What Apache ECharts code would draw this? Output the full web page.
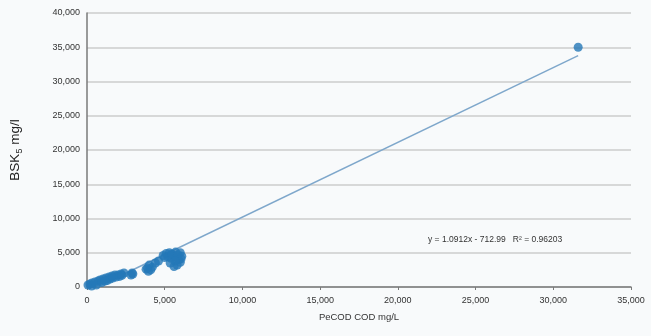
<!DOCTYPE html>
<html>
<head>
<meta charset="utf-8">
<script src="https://cdn.jsdelivr.net/npm/echarts@6/dist/echarts.min.js"></script>
<style>
  html, body { margin: 0; padding: 0; background: #f8fafb; }
  #chart { width: 651px; height: 336px; }
</style>
</head>
<body>
<div id="chart"></div>
<script>
// PeCOD COD (x) vs BSK5 (y) sample measurements, mg/l
const codValues = [
  64, 190, 320, 510, 710, 840, 1030, 1220, 1420, 1610, 1800, 2000, 2190, 2380, 1480, 1870,
  300, 600, 950, 1300, 1650, 2100, 2250, 1150,
  2900, 2830, 2950,
  3800, 4000, 4200, 4400, 3950, 4600, 4100, 3900,
  4900, 5100, 5300, 5500, 5700, 5900, 6000, 5800, 5600, 6100, 5400, 5200, 6000, 5700,
  5000, 5450, 5850, 6050, 5650, 5350,
  31600
];
const bskValues = [
  290, 440, 580, 730, 880, 1020, 1170, 1310, 1460, 1610, 1750, 1750, 1900, 2040, 1170, 1460,
  150, 300, 650, 950, 1300, 1550, 1700, 850,
  2040, 1750, 1900,
  2600, 3200, 2900, 3500, 2300, 3800, 2500, 2750,
  4600, 4900, 5000, 4700, 4300, 4000, 3600, 3200, 3000, 4500, 4200, 4400, 5000, 5100,
  4300, 4800, 4700, 4100, 3800, 3500,
  35000
];

// Linear fit reported on the chart
const fitSlope = 1.0912;
const fitIntercept = -712.99;
const fitR2 = 0.96203;
const fitRange = [650, 31600];

const xTicks = [0, 5000, 10000, 15000, 20000, 25000, 30000, 35000];
const yTicks = [0, 5000, 10000, 15000, 20000, 25000, 30000, 35000, 40000];

const points = codValues.map((x, i) => [x, bskValues[i]]);
const fitLine = fitRange.map(x => [x, fitSlope * x + fitIntercept]);
const fmt = v => v.toLocaleString('en-US');

const chart = echarts.init(document.getElementById('chart'));
chart.setOption({
  backgroundColor: '#f8fafb',
  animation: false,
  grid: { left: 87, right: 20, top: 13, bottom: 49 },
  xAxis: {
    type: 'value',
    min: xTicks[0],
    max: xTicks[xTicks.length - 1],
    interval: 5000,
    name: 'PeCOD COD mg/L',
    nameLocation: 'middle',
    nameGap: 25,
    nameTextStyle: { fontFamily: 'Liberation Sans', fontSize: 9.5, color: '#333' },
    axisLine: { lineStyle: { color: '#7a7a7a', width: 1.5 } },
    axisTick: { show: true, length: 3, lineStyle: { color: '#7a7a7a' } },
    axisLabel: { formatter: fmt, margin: 9, fontFamily: 'Liberation Sans', fontSize: 9, color: '#333' },
    splitLine: { show: false }
  },
  yAxis: {
    type: 'value',
    min: yTicks[0],
    max: yTicks[yTicks.length - 1],
    interval: 5000,
    name: '{n|BSK}{s|5}{n| mg/l}',
    nameLocation: 'middle',
    nameRotate: 90,
    nameGap: 63,
    nameTextStyle: {
      rich: {
        n: { fontFamily: 'Liberation Sans', fontSize: 13.5, color: '#222' },
        s: { fontFamily: 'Liberation Sans', fontSize: 9, color: '#222', padding: [8, 0, 0, 0] }
      }
    },
    axisLine: { show: true, lineStyle: { color: '#7a7a7a', width: 1.5 } },
    axisTick: { show: false },
    axisLabel: { formatter: fmt, margin: 7, padding: [10, 0, 0, 0], fontFamily: 'Liberation Sans', fontSize: 9, color: '#333' },
    splitLine: { show: true, lineStyle: { color: '#cdcdcd', width: 1.5 } }
  },
  series: [
    {
      type: 'line',
      data: fitLine,
      symbol: 'none',
      lineStyle: { color: '#7ea7cb', width: 1.5 },
      z: 1,
      silent: true
    },
    {
      type: 'scatter',
      data: points,
      symbolSize: 9,
      itemStyle: { color: '#2478b8' },
      z: 2
    }
  ],
  graphic: [{
    type: 'text',
    left: 428,
    top: 235,
    style: {
      text: 'y = ' + fitSlope + 'x - ' + Math.abs(fitIntercept) + '   R² = ' + fitR2,
      fontFamily: 'Liberation Sans',
      fontSize: 8.5,
      fill: '#333'
    }
  }]
});
</script>
</body>
</html>
